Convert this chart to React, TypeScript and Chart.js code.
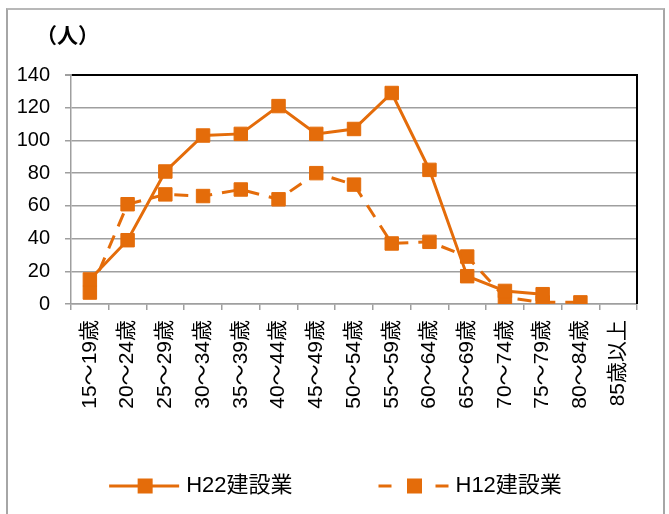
import React, { useEffect, useRef } from "react";
import { Chart, registerables } from "chart.js";

Chart.register(...registerables);

const categories = [
  "15～19歳", "20～24歳", "25～29歳", "30～34歳", "35～39歳",
  "40～44歳", "45～49歳", "50～54歳", "55～59歳", "60～64歳",
  "65～69歳", "70～74歳", "75～79歳", "80～84歳", "85歳以上",
];
const h22Values = [15, 39, 81, 103, 104, 121, 104, 107, 129, 82, 17, 8, 6, null, null];
const h12Values = [7, 61, 67, 66, 70, 64, 80, 73, 37, 38, 29, 4, 1, 1, null];
const seriesNames = ["H22建設業", "H12建設業"];
const unitLabel = "（人）";
const yMin = 0;
const yMax = 140;
const yStep = 20;

const ORANGE = "#E46C0A";
const GRID = "#9f9f9f";
const FONT = '"Liberation Sans", "Noto Sans CJK JP", sans-serif';

const decorPlugin = {
  id: "decor",
  beforeDatasetsDraw(chart: any) {
    const { ctx, chartArea } = chart;
    ctx.save();
    ctx.strokeStyle = "#000";
    ctx.lineWidth = 2;
    ctx.beginPath();
    ctx.moveTo(chartArea.right, chartArea.top - 1);
    ctx.lineTo(chartArea.right, chartArea.bottom);
    ctx.stroke();
    ctx.restore();
  },
  afterDraw(chart: any) {
    const { ctx, chartArea } = chart;
    ctx.save();
    ctx.font = `bold 21px "Noto Sans CJK JP", sans-serif`;
    ctx.fillStyle = "#000";
    ctx.textBaseline = "middle";
    ctx.textAlign = "left";
    ctx.fillText(unitLabel, chartArea.left - 35, chartArea.top - 40);

    // legend: line + marker symbols
    ctx.font = `22px ${FONT}`;
    const symW = 70;
    const gap = 7;
    const itemGap = 86;
    const items = chart.data.datasets.map((ds: any) => ({
      ds,
      tw: ctx.measureText(ds.label).width,
    }));
    const total =
      items.reduce((s: number, it: any) => s + symW + gap + it.tw, 0) +
      itemGap * (items.length - 1);
    let x = (chart.width - total) / 2;
    const y = chart.height - 28;
    items.forEach(({ ds, tw }: any) => {
      ctx.strokeStyle = ds.borderColor;
      ctx.lineWidth = 3;
      ctx.setLineDash(ds.borderDash && ds.borderDash.length ? [13, 44] : []);
      ctx.beginPath();
      ctx.moveTo(x, y);
      ctx.lineTo(x + symW, y);
      ctx.stroke();
      ctx.setLineDash([]);
      ctx.fillStyle = ds.pointBackgroundColor;
      const s = 15;
      ctx.fillRect(x + symW / 2 - s / 2 + 1, y - s / 2, s, s);
      ctx.fillStyle = "#000";
      ctx.fillText(ds.label, x + symW + gap, y);
      x += symW + gap + tw + itemGap;
    });
    ctx.restore();
  },
};

export default function App() {
  const ref = useRef<HTMLCanvasElement | null>(null);

  useEffect(() => {
    if (!ref.current) return;
    const chart = new Chart(ref.current, {
      type: "line",
      data: {
        labels: categories,
        datasets: [
          {
            label: seriesNames[0],
            data: h22Values,
            borderColor: ORANGE,
            backgroundColor: ORANGE,
            pointBackgroundColor: ORANGE,
            pointBorderColor: ORANGE,
            borderWidth: 3,
            pointStyle: "rect",
            pointRadius: 9.5,
            pointBorderWidth: 1,
            tension: 0,
            spanGaps: false,
          },
          {
            label: seriesNames[1],
            data: h12Values,
            borderColor: ORANGE,
            backgroundColor: ORANGE,
            pointBackgroundColor: ORANGE,
            pointBorderColor: ORANGE,
            borderWidth: 3,
            borderDash: [14, 10],
            pointStyle: "rect",
            pointRadius: 9.5,
            pointBorderWidth: 1,
            tension: 0,
            spanGaps: false,
          },
        ],
      },
      options: {
        responsive: false,
        animation: false,
        layout: { padding: { top: 65, right: 26, bottom: 100, left: 0 } },
        plugins: {
          legend: { display: false },
          title: { display: false },
          tooltip: { enabled: false },
        },
        scales: {
          x: {
            offset: true,
            grid: {
              offset: true,
              drawOnChartArea: false,
              drawTicks: true,
              tickLength: 6,
              color: GRID,
              lineWidth: 1.5,
            },
            border: { color: GRID, width: 1.5 },
            ticks: {
              autoSkip: false,
              minRotation: 90,
              maxRotation: 90,
              padding: 10,
              color: "#000",
              font: { family: FONT, size: 21 },
            },
            afterFit: (scale: any) => {
              scale.height = 110;
            },
          },
          y: {
            min: yMin,
            max: yMax,
            ticks: {
              stepSize: yStep,
              padding: 15,
              color: "#000",
              font: { family: FONT, size: 20 },
            },
            grid: {
              color: (c: any) => (c.tick && c.tick.value === yMax ? "#000" : GRID),
              lineWidth: (c: any) => (c.tick && c.tick.value === yMax ? 2 : 1.5),
              tickColor: GRID,
              tickLength: 6,
            },
            border: { color: GRID, width: 1.5 },
            afterFit: (scale: any) => {
              scale.width = 63;
            },
          },
        },
      },
      plugins: [decorPlugin],
    });
    return () => chart.destroy();
  }, []);

  return (
    <div
      style={{
        position: "absolute",
        left: 6,
        top: 8,
        width: 655,
        height: 504,
        borderLeft: "2px solid #a6a6a6",
        borderRight: "2px solid #a6a6a6",
        borderTop: "2px solid #b8b8b8",
        background: "#fff",
      }}
    >
      <canvas ref={ref} width={655} height={504} style={{ display: "block" }} />
    </div>
  );
}
